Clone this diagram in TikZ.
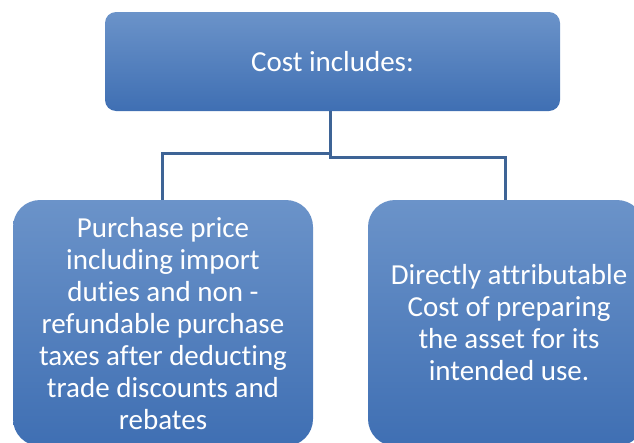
\documentclass[tikz,border=0pt]{standalone}
\usepackage{fontspec}
\setmainfont[Ligatures=NoCommon]{Carlito}
\definecolor{boxtop}{HTML}{6B93C9}
\definecolor{boxbot}{HTML}{3F6FB3}
\definecolor{linec}{HTML}{3E6496}
\tikzset{
  box/.style={top color=boxtop, bottom color=boxbot, draw=none, text=white,
    align=center, font=\fontsize{29}{32}\selectfont, inner sep=0pt},
  conn/.style={draw=linec, line width=3pt}
}
\begin{document}
\begin{tikzpicture}[x=1pt,y=-1pt]
\useasboundingbox (0,0) rectangle (634,442);
\clip (0,0) rectangle (634,442);
\node[box, rounded corners=11pt, minimum width=455pt, minimum height=99pt] (top) at (332.5,61.5) {Cost includes:};
\node[box, rounded corners=27pt, minimum width=300pt, minimum height=246pt] (left) at (163,323) {};
\node[box, rounded corners=27pt, minimum width=276pt, minimum height=246pt] (right) at (506,323) {};
\node[box, top color=white, bottom color=white, fill opacity=0, text opacity=1] (lefttext) at (163,324) {Purchase price\\including import\\duties and non -\\refundable purchase\\taxes after deducting\\trade discounts and\\rebates};
\node[box, top color=white, bottom color=white, fill opacity=0, text opacity=1] (righttext) at (509,323) {Directly attributable\\Cost of preparing\\the asset for its\\intended use.};
\coordinate (jl) at (330,153);
\coordinate (jr) at (330,157);
\draw[conn] (top.south -| jl) -- (jl) -- (jl -| 162,0) -- (162,200);
\draw[conn] (top.south -| jr) -- (jr) -- (jr -| 505,0) -- (505,200);
\end{tikzpicture}
\end{document}
